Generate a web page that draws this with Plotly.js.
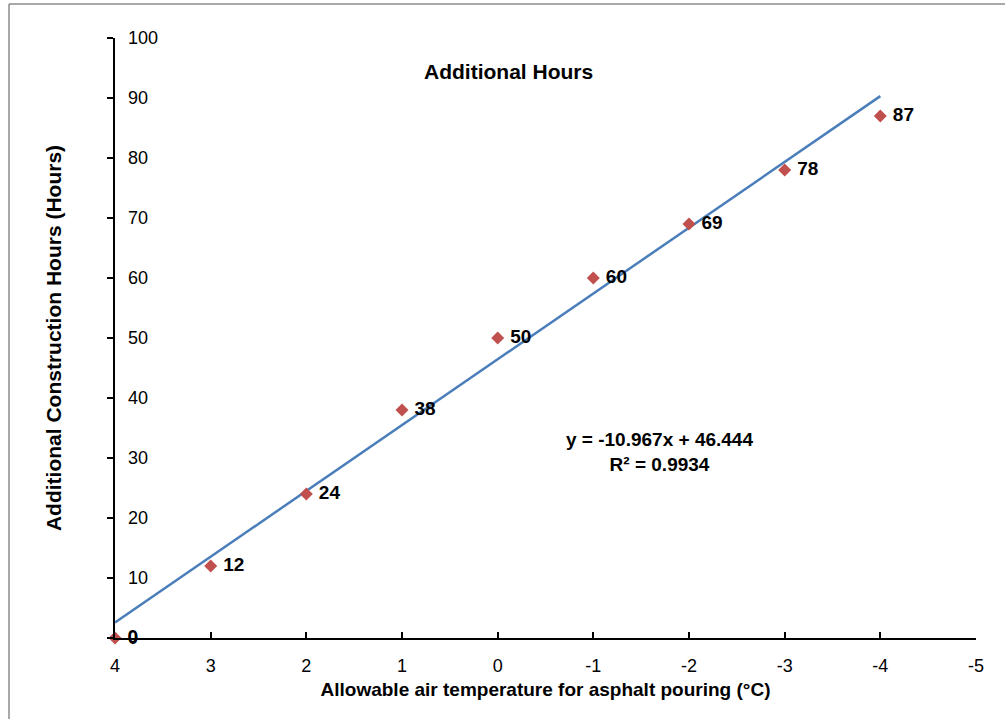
<!DOCTYPE html>
<html>
<head>
<meta charset="utf-8">
<script src="https://cdn.plot.ly/plotly-3.0.1.min.js"></script>
<style>html,body{margin:0;padding:0;background:#fff}#chart{width:1005px;height:719px}</style>
</head>
<body>
<div id="chart"></div>
<script>
// Data
const temperatures = [4, 3, 2, 1, 0, -1, -2, -3, -4];
const additionalHours = [0, 12, 24, 38, 50, 60, 69, 78, 87];
const xTickValues = [4, 3, 2, 1, 0, -1, -2, -3, -4, -5];
const yTickValues = [0, 10, 20, 30, 40, 50, 60, 70, 80, 90, 100];

// Linear least-squares trendline computed from the data
const n = temperatures.length;
const mx = temperatures.reduce((a, b) => a + b, 0) / n;
const my = additionalHours.reduce((a, b) => a + b, 0) / n;
let sxy = 0, sxx = 0, syy = 0;
for (let i = 0; i < n; i++) {
  sxy += (temperatures[i] - mx) * (additionalHours[i] - my);
  sxx += (temperatures[i] - mx) ** 2;
  syy += (additionalHours[i] - my) ** 2;
}
const slope = sxy / sxx;
const intercept = my - slope * mx;
const r2 = (sxy * sxy) / (sxx * syy);
const trendX = [Math.max(...temperatures), Math.min(...temperatures)];
const trendY = trendX.map(x => slope * x + intercept);

const labelFont = {family: 'Liberation Sans, Arial, sans-serif', size: 19, color: '#000'};
const tickFont = {size: 18, family: 'Liberation Sans, Arial, sans-serif', color: '#000'};

const traces = [
  {
    x: trendX, y: trendY, mode: 'lines', type: 'scatter',
    line: {color: '#4A7EBB', width: 2.5}, hoverinfo: 'skip', showlegend: false
  },
  {
    x: temperatures, y: additionalHours, mode: 'markers+text', type: 'scatter',
    marker: {symbol: 'diamond', size: 10, color: '#C0504D'},
    text: additionalHours.map(v => '<b>\u00a0' + v + '</b>'),
    textposition: 'middle right',
    textfont: labelFont,
    cliponaxis: false,
    showlegend: false
  },
  {
    // carries the right-of-axis tick labels of the value axis
    x: trendX, y: trendY, mode: 'lines', type: 'scatter', yaxis: 'y2',
    line: {color: 'rgba(0,0,0,0)', width: 0}, hoverinfo: 'skip', showlegend: false
  }
];

const layout = {
  width: 1005, height: 719,
  margin: {l: 115, r: 29, t: 38, b: 81},
  paper_bgcolor: '#fff', plot_bgcolor: '#fff',
  font: {family: 'Liberation Sans, Arial, sans-serif', color: '#000'},
  showlegend: false,
  xaxis: {
    range: [4, -5], tickvals: xTickValues, ticktext: xTickValues.map(String),
    ticks: 'inside', ticklen: 6, tickwidth: 2, tickcolor: '#000',
    showline: true, linecolor: '#000', linewidth: 2,
    showgrid: false, zeroline: false,
    ticklabelstandoff: 10,
    tickfont: tickFont,
    title: {text: '<b>Allowable air temperature for asphalt pouring (°C)</b>', font: {size: 19}, standoff: 8}
  },
  yaxis: {
    range: [0, 100], tickvals: yTickValues,
    ticks: 'outside', ticklen: 6, tickwidth: 2, tickcolor: '#000',
    showticklabels: false,
    showline: true, linecolor: '#000', linewidth: 2,
    showgrid: false, zeroline: false,
    title: {text: '<b>Additional Construction Hours (Hours)</b>', font: {size: 21}, standoff: 40}
  },
  yaxis2: {
    range: [0, 100], tickvals: yTickValues, ticktext: yTickValues.map(String),
    overlaying: 'y', side: 'right', anchor: 'free', position: 0,
    ticks: '', showline: false, showgrid: false, zeroline: false,
    ticklabelstandoff: 12,
    tickfont: tickFont
  },
  annotations: [
    {xref: 'paper', yref: 'paper', x: 0.457, y: 0.945, xanchor: 'center', yanchor: 'middle', showarrow: false,
     text: '<b>Additional Hours</b>', font: {family: 'Liberation Sans, Arial, sans-serif', size: 21}},
    {xref: 'paper', yref: 'paper', x: 0.632, y: 0.31, xanchor: 'center', yanchor: 'middle', showarrow: false,
     text: '<b>y = ' + slope.toFixed(3) + 'x + ' + intercept.toFixed(3) + '<br>R² = ' + r2.toFixed(4) + '</b>',
     font: {family: 'Liberation Sans, Arial, sans-serif', size: 19}}
  ],
  shapes: [
    {type: 'line', xref: 'paper', yref: 'paper', x0: -0.1231, x1: 1.04, y0: 1.0567, y1: 1.0567, line: {color: '#8c8c8c', width: 1.5}},
    {type: 'line', xref: 'paper', yref: 'paper', x0: -0.1231, x1: -0.1231, y0: 1.0567, y1: -0.2, line: {color: '#8c8c8c', width: 1.5}}
  ]
};

Plotly.newPlot('chart', traces, layout, {displayModeBar: false, staticPlot: true});
</script>
</body>
</html>
